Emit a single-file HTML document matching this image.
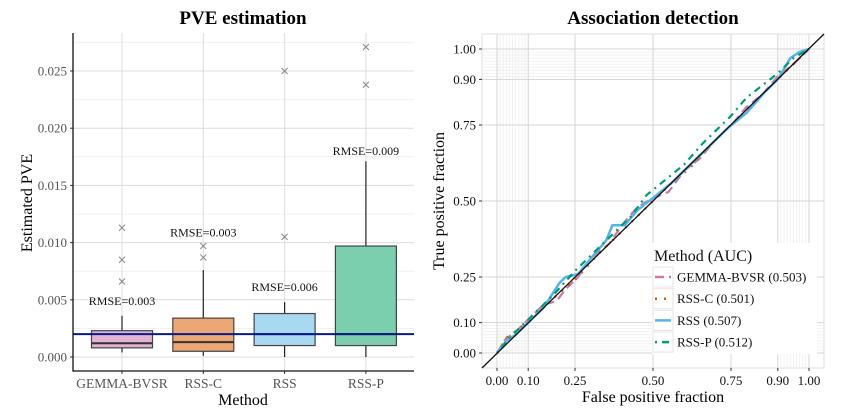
<!DOCTYPE html>
<html><head><meta charset="utf-8"><style>
html,body{margin:0;padding:0;background:#fff;width:842px;height:414px;overflow:hidden}
svg{font-family:"Liberation Serif",serif}
</style></head><body>
<svg id="c" width="842" height="414" viewBox="0 0 842 414"></svg>
<script>
// ---------- data: left boxplot ----------
const categories = ["GEMMA-BVSR","RSS-C","RSS","RSS-P"];
const q1 = [0.0008,0.0005,0.0010,0.0010];
const med = [0.0012,0.0013,0.0020,0.0020];
const q3 = [0.0023,0.0034,0.0038,0.0097];
const wLo = [0.0004,0.0001,0.0000,0.0000];
const wHi = [0.0036,0.0076,0.0048,0.0171];
const outliers = [[0.0066,0.0085,0.0113],[0.0087,0.0097],[0.0105,0.0250],[0.0238,0.0271]];
const rmseLabels = ["RMSE=0.003","RMSE=0.003","RMSE=0.006","RMSE=0.009"];
const rmseY = [0.0049,0.0109,0.0061,0.0180];
const truePVE = 0.002;
const yTicks = [0,0.005,0.010,0.015,0.020,0.025];
const yTickLabels = ["0.000","0.005","0.010","0.015","0.020","0.025"];
const boxFill = ["#e3b3d2","#eca774","#a9d8f1","#7ccfae"];
// ---------- data: right ROC ----------
const rocTicks = [0,0.10,0.25,0.50,0.75,0.90,1.00];
const rocTickLabels = ["0.00","0.10","0.25","0.50","0.75","0.90","1.00"];
const seriesNames = ["GEMMA-BVSR (0.503)","RSS-C (0.501)","RSS (0.507)","RSS-P (0.512)"];
const gemFpr = [0,0.03,0.05,0.08,0.1,0.15,0.19,0.22,0.26,0.3,0.36,0.4,0.45,0.5,0.55,0.6,0.65,0.7,0.76,0.8,0.85,0.9,0.95,1];
const gemTpr = [0,0.05,0.06,0.09,0.11,0.16,0.17,0.21,0.25,0.31,0.36,0.42,0.48,0.51,0.53,0.6,0.64,0.7,0.76,0.81,0.85,0.91,0.95,1];
const rsscFpr = [0,0.03,0.07,0.12,0.18,0.25,0.32,0.4,0.48,0.55,0.62,0.68,0.74,0.8,0.86,0.92,0.97,1];
const rsscTpr = [0,0.05,0.08,0.12,0.18,0.24,0.32,0.4,0.48,0.55,0.61,0.68,0.74,0.8,0.86,0.92,0.97,1];
const rssFpr = [0,0.03,0.06,0.1,0.15,0.2,0.22,0.26,0.3,0.35,0.37,0.41,0.45,0.5,0.56,0.62,0.68,0.74,0.8,0.86,0.9,0.94,0.97,1];
const rssTpr = [0,0.04,0.06,0.1,0.15,0.23,0.25,0.26,0.31,0.37,0.42,0.42,0.47,0.51,0.56,0.62,0.68,0.74,0.79,0.86,0.9,0.97,0.99,1];
const rsspFpr = [0,0.04,0.07,0.12,0.18,0.25,0.3,0.36,0.43,0.48,0.54,0.6,0.66,0.7,0.75,0.8,0.85,0.9,0.95,1];
const rsspTpr = [0,0.05,0.08,0.13,0.19,0.27,0.32,0.38,0.45,0.52,0.57,0.62,0.69,0.73,0.78,0.84,0.88,0.92,0.97,1];
const rocColors = ["#cc79a7","#d55e00","#56b4e9","#009e73"];
const rocDash = ["9,5","2,7","","2,5,7,5"];

const NS="http://www.w3.org/2000/svg";
const svg=document.getElementById('c');
function mk(tag,attrs,parent,text){const e=document.createElementNS(NS,tag);for(const k in attrs)e.setAttribute(k,attrs[k]);if(text!==undefined)e.textContent=text;(parent||svg).appendChild(e);return e;}

// ----- left panel -----
const L={x0:73,x1:414,y0:33,y1:371};
const ly=v=>357-(v/0.025)*286;
const lx=i=>122+i*81.3;
const gL=mk('g',{});


let t=mk('text',{x:243,y:24,'text-anchor':'middle','font-size':'19','font-weight':'bold'},gL,'PVE estimation');

for(let v=0.0025;v<0.028;v+=0.005){mk('line',{x1:L.x0,x2:L.x1,y1:ly(v),y2:ly(v),stroke:'#f0f0f0','stroke-width':1},gL);}
yTicks.forEach((v,i)=>{
  const g=mk('line',{x1:L.x0,x2:L.x1,y1:ly(v),y2:ly(v),stroke:'#dcdcdc','stroke-width':1},gL);
  
  mk('line',{x1:L.x0-3,x2:L.x0,y1:ly(v),y2:ly(v),stroke:'#333'},gL);
  const tl=mk('text',{x:L.x0-6,y:ly(v)+4.5,'text-anchor':'end','font-size':'13',fill:'#555'},gL,yTickLabels[i]);
  
});
categories.forEach((c,i)=>{
  mk('line',{x1:lx(i),x2:lx(i),y1:L.y0,y2:L.y1,stroke:'#dcdcdc'},gL);
});
categories.forEach((c,i)=>{
  const x=lx(i),hw=30.5;
  const bg=mk('g',{},gL);
  
  mk('line',{x1:x,x2:x,y1:ly(wLo[i]),y2:ly(q1[i]),stroke:'#222','stroke-width':1.2},bg);
  mk('line',{x1:x,x2:x,y1:ly(q3[i]),y2:ly(wHi[i]),stroke:'#222','stroke-width':1.2},bg);
  mk('rect',{x:x-hw,y:ly(q3[i]),width:2*hw,height:ly(q1[i])-ly(q3[i]),fill:boxFill[i],stroke:'#444','stroke-width':1.2},bg);
  mk('line',{x1:x-hw,x2:x+hw,y1:ly(med[i]),y2:ly(med[i]),stroke:'#333','stroke-width':2},bg);
  outliers[i].forEach(o=>{
    const y=ly(o);
    const p=mk('path',{d:`M${x-3},${y-3}L${x+3},${y+3}M${x-3},${y+3}L${x+3},${y-3}`,stroke:'#888','stroke-width':1},bg);
    
  });
  const r=mk('text',{x:x,y:ly(rmseY[i])+4,'text-anchor':'middle','font-size':'12',fill:'#111'},gL,rmseLabels[i]);
  
  const xl=mk('text',{x:x,y:388,'text-anchor':'middle','font-size':'13.5',fill:'#555'},gL,c);
  
  mk('line',{x1:x,x2:x,y1:L.y1,y2:L.y1+3,stroke:'#333'},gL);
});
let hl=mk('line',{x1:L.x0,x2:L.x1,y1:ly(truePVE),y2:ly(truePVE),stroke:'#0a1a8c','stroke-width':2},gL);

mk('path',{d:`M${L.x0},${L.y0}V${L.y1}H${L.x1}`,fill:'none',stroke:'#111','stroke-width':1.3},gL);
t=mk('text',{x:243,y:405,'text-anchor':'middle','font-size':'16'},gL,'Method');

t=mk('text',{x:0,y:0,'text-anchor':'middle','font-size':'16',transform:'translate(32,203) rotate(-90)'},gL,'Estimated PVE');


// ----- right panel -----
const R={x0:482,x1:824,y0:34,y1:368};
const rx=v=>497+v*312;
const ry=v=>353-v*304;
const gR=mk('g',{});

t=mk('text',{x:653,y:24,'text-anchor':'middle','font-size':'19','font-weight':'bold'},gR,'Association detection');

mk('rect',{x:R.x0,y:R.y0,width:R.x1-R.x0,height:R.y1-R.y0,fill:'none',stroke:'#ddd'},gR);
for(let k=1;k<10;k++){
  [k/100,0.9+k/100].forEach(v=>{
    mk('line',{x1:rx(v),x2:rx(v),y1:R.y0,y2:R.y1,stroke:'#ececec','stroke-width':0.7},gR);
    mk('line',{x1:R.x0,x2:R.x1,y1:ry(v),y2:ry(v),stroke:'#ececec','stroke-width':0.7},gR);
  });
}
rocTicks.forEach((v,i)=>{
  mk('line',{x1:rx(v),x2:rx(v),y1:R.y0,y2:R.y1,stroke:'#d4d4d4'},gR);
  mk('line',{x1:R.x0,x2:R.x1,y1:ry(v),y2:ry(v),stroke:'#d4d4d4'},gR);
  mk('line',{x1:R.x0-3,x2:R.x0,y1:ry(v),y2:ry(v),stroke:'#333'},gR);
  mk('line',{x1:rx(v),x2:rx(v),y1:R.y1,y2:R.y1+3,stroke:'#333'},gR);
  let a=mk('text',{x:R.x0-6,y:ry(v)+4.5,'text-anchor':'end','font-size':'13',fill:'#111'},gR,rocTickLabels[i]);
  
  a=mk('text',{x:rx(v),y:385,'text-anchor':'middle','font-size':'13',fill:'#111'},gR,rocTickLabels[i]);
  
});
const fprs=[gemFpr,rsscFpr,rssFpr,rsspFpr], tprs=[gemTpr,rsscTpr,rssTpr,rsspTpr];
fprs.forEach((f,s)=>{
  const d=f.map((v,j)=>(j?'L':'M')+rx(v).toFixed(1)+','+ry(tprs[s][j]).toFixed(1)).join('');
  const p=mk('path',{d:d,fill:'none',stroke:rocColors[s],'stroke-width':s==2?2.5:2.2,'stroke-dasharray':rocDash[s],'stroke-linecap':'butt'},gR);
  
  
});
let dg=mk('line',{x1:R.x0,y1:R.y1,x2:R.x1,y2:R.y0,stroke:'#111','stroke-width':1.3},gR);

const lg=mk('g',{},gR);

mk('rect',{x:652,y:243,width:165,height:111,fill:'#fff'},lg);
mk('text',{x:654,y:261,'font-size':'16',fill:'#111'},lg,'Method (AUC)');
seriesNames.forEach((n,i)=>{
  const y=277+i*21.7;
  const e=mk('g',{},lg);
  
  mk('rect',{x:653,y:y-10,width:20,height:20,fill:'#fff',stroke:'#e4e4e4'},e);
  mk('line',{x1:655,x2:671,y1:y,y2:y,stroke:rocColors[i],'stroke-width':2.5,'stroke-dasharray':rocDash[i]},e);
  mk('text',{x:677,y:y+4.5,'font-size':'13',fill:'#111'},e,n);
});
t=mk('text',{x:653,y:402,'text-anchor':'middle','font-size':'16'},gR,'False positive fraction');

t=mk('text',{x:0,y:0,'text-anchor':'middle','font-size':'16',transform:'translate(444,201) rotate(-90)'},gR,'True positive fraction');

</script>
</body></html>
